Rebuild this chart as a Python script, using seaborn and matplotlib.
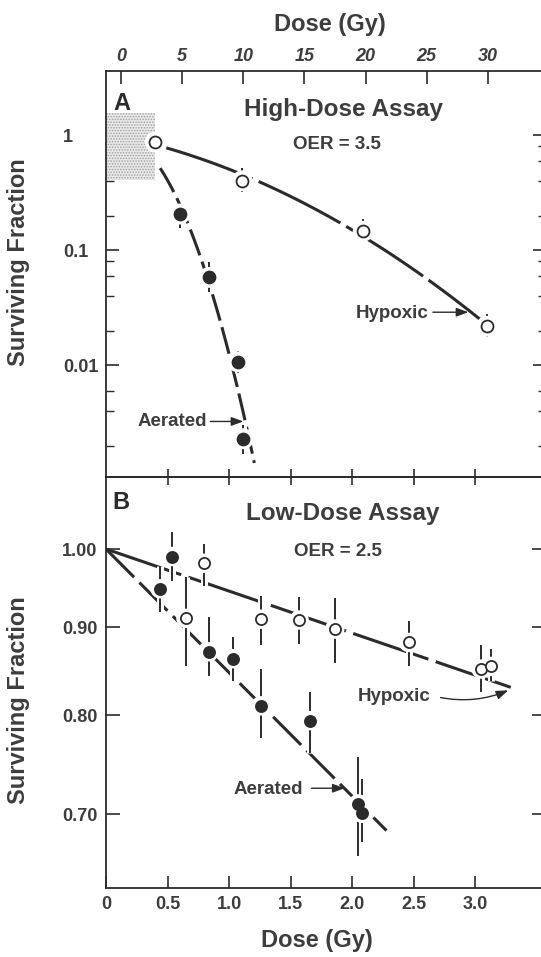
import numpy as np
import pandas as pd
import matplotlib
matplotlib.use("Agg")
import matplotlib.pyplot as plt
import matplotlib.patheffects as pe
from matplotlib.ticker import FixedLocator, NullFormatter
import seaborn as sns

# ---------------- data ----------------
# Panel A: high-dose assay (log survival)
hd_hyp_dose = [2.8, 9.9, 19.8, 29.9]
hd_hyp_sf = [0.87, 0.40, 0.146, 0.0218]
hd_hyp_lo = [0.87, 0.32, 0.122, 0.0175]
hd_hyp_hi = [0.87, 0.52, 0.186, 0.0277]

hd_aer_dose = [4.8, 7.2, 9.55, 10.0]
hd_aer_sf = [0.206, 0.058, 0.0107, 0.0023]
hd_aer_lo = [0.155, 0.0433, 0.0085, 0.0017]
hd_aer_hi = [0.237, 0.0785, 0.0132, 0.0030]

# Panel B: low-dose assay
ld_hyp_dose = [0.65, 0.80, 1.26, 1.57, 1.86, 2.46, 3.05, 3.13]
ld_hyp_sf = [0.911, 0.981, 0.910, 0.909, 0.898, 0.882, 0.851, 0.854]
ld_hyp_lo = [0.855, 0.951, 0.879, 0.880, 0.858, 0.855, 0.825, 0.837]
ld_hyp_hi = [0.963, 1.007, 0.939, 0.937, 0.936, 0.908, 0.879, 0.874]

ld_aer_dose = [0.44, 0.54, 0.84, 1.03, 1.26, 1.66, 2.05, 2.08]
ld_aer_sf = [0.948, 0.990, 0.871, 0.863, 0.810, 0.794, 0.710, 0.701]
ld_aer_lo = [0.919, 0.958, 0.843, 0.837, 0.776, 0.760, 0.662, 0.674]
ld_aer_hi = [0.977, 1.023, 0.913, 0.888, 0.851, 0.825, 0.756, 0.734]

# exponential slopes (per Gy) of the low-dose survival lines
ld_hyp_slope = 0.0565
ld_aer_slope = 0.166

# fitted-curve dose ranges
hd_hyp_range = (3.7, 29.6)
hd_aer_range = (3.2, 10.9)
ld_hyp_range = (0.0, 3.34)
ld_aer_range = (0.0, 2.28)

# low-dose region marked on the high-dose plot
box_dose = [-1.3, 2.75]
box_sf = [0.406, 1.55]

top_ticks = [0, 5, 10, 15, 20, 25, 30]
bottom_ticks = [0, 0.5, 1.0, 1.5, 2.0, 2.5, 3.0]
bottom_ticklabels = ["0", "0.5", "1.0", "1.5", "2.0", "2.5", "3.0"]
a_major = [1, 0.1, 0.01]
a_major_labels = ["1", "0.1", "0.01"]
a_minor = [0.8, 0.6, 0.4, 0.2, 0.08, 0.06, 0.04, 0.02, 0.006, 0.004, 0.002]
b_major = [1.0, 0.9, 0.8, 0.7]
b_major_labels = ["1.00", "0.90", "0.80", "0.70"]

# ---------------- style ----------------
sns.set_theme(style="ticks")
INK = "#2b2b2b"
TXT = "#3d3d3d"
plt.rcParams["font.family"] = ["Liberation Sans", "DejaVu Sans"]
plt.rcParams["hatch.linewidth"] = 0.7
plt.rcParams["axes.edgecolor"] = INK
plt.rcParams["xtick.color"] = INK
plt.rcParams["ytick.color"] = INK

W, H = 541, 957
fig = plt.figure(figsize=(W / 100, H / 100), dpi=100, facecolor="white")

L, R = 106, 546
ax_a = fig.add_axes([L / W, 1 - 477 / H, (R - L) / W, (477 - 71) / H])
ax_b = fig.add_axes([L / W, 1 - 888 / H, (R - L) / W, (888 - 477) / H])
for ax in (ax_a, ax_b):
    ax.set_facecolor("none")
    for s in ax.spines.values():
        s.set_linewidth(1.3)
        s.set_color(INK)


def fit_quadratic(d, sf):
    """ln S = c0 + c1 D + c2 D^2, least squares."""
    c = np.polyfit(np.asarray(d), np.log(np.asarray(sf)), 2)
    return lambda x: np.exp(np.polyval(c, x))


def fit_lq(d, sf):
    """Linear-quadratic model through the origin: ln S = -aD - bD^2."""
    d = np.asarray(d, dtype=float)
    A = np.column_stack([d, d * d])
    (a, b), *_ = np.linalg.lstsq(A, -np.log(np.asarray(sf)), rcond=None)
    return lambda x: np.exp(-a * x - b * x * x)


def exponential(k):
    return lambda x: np.exp(-k * x)


def draw_series(ax, dose, sf, lo, hi, filled, ms):
    dose = np.asarray(dose)
    sf = np.asarray(sf)
    err = [sf - np.asarray(lo), np.asarray(hi) - sf]
    eb = ax.errorbar(dose, sf, yerr=err, fmt="none", ecolor=INK,
                     elinewidth=1.2, capsize=0, zorder=3)
    for c in eb.lines[2]:
        c.set_path_effects([pe.withStroke(linewidth=5, foreground="white"), pe.Normal()])
    df = pd.DataFrame({"dose": dose, "sf": sf})
    sns.scatterplot(data=df, x="dose", y="sf", ax=ax, s=(ms * 1.75) ** 2,
                    color="white", edgecolor="none", zorder=3.5, legend=False)
    sns.scatterplot(data=df, x="dose", y="sf", ax=ax, s=ms ** 2,
                    color=INK if filled else "white", edgecolor=INK,
                    linewidth=1.3, zorder=4, legend=False)


def draw_curve(ax, f, rng, dashes):
    x = np.linspace(rng[0], rng[1], 200)
    sns.lineplot(x=x, y=f(x), ax=ax, color=INK, linewidth=2.2,
                 linestyle=(0, dashes), sort=False, estimator=None, zorder=2)


# ---------------- panel A ----------------
ax_a.set_yscale("log")
ax_a.fill_between(box_dose, box_sf[0], box_sf[1], facecolor="#e8e8e8",
                  edgecolor="#a0a0a0", hatch="......", linewidth=0, zorder=1)
draw_curve(ax_a, fit_quadratic(hd_hyp_dose, hd_hyp_sf), hd_hyp_range, (30, 2.2))
draw_curve(ax_a, fit_lq(hd_aer_dose, hd_aer_sf), hd_aer_range, (9, 2.2))
draw_series(ax_a, hd_hyp_dose, hd_hyp_sf, hd_hyp_lo, hd_hyp_hi, False, 8.6)
draw_series(ax_a, hd_aer_dose, hd_aer_sf, hd_aer_lo, hd_aer_hi, True, 8.6)

ax_a.set_xlim(-1.23, 34.75)
ax_a.set_ylim(0.00107, 3.6)
ax_a.xaxis.tick_top()
ax_a.xaxis.set_label_position("top")
ax_a.set_xticks(top_ticks)
ax_a.set_xticklabels([str(t) for t in top_ticks], fontsize=13,
                     fontweight="bold", fontstyle="italic", color=TXT)
ax_a.tick_params(axis="x", which="major", direction="in", length=9.5,
                 width=1.2, pad=4, top=True, bottom=False)
ax_a.yaxis.set_major_locator(FixedLocator(a_major))
ax_a.yaxis.set_minor_locator(FixedLocator(a_minor))
ax_a.yaxis.set_minor_formatter(NullFormatter())
ax_a.set_yticklabels(a_major_labels, fontsize=13, fontweight="bold",
                     color=TXT, ha="left")
ax_a.tick_params(axis="y", which="major", direction="in", length=9.5,
                 width=1.2, pad=31, left=True, right=True)
ax_a.tick_params(axis="y", which="minor", direction="in", length=5.5,
                 width=1.0, left=True, right=True)
ax_a.set_xlabel("Dose (Gy)", fontsize=17, fontweight="bold", color=TXT)
ax_a.xaxis.set_label_coords(0.508, 1.098)
ax_a.set_ylabel("Surviving Fraction", fontsize=17, fontweight="bold", color=TXT)
ax_a.yaxis.set_label_coords(-0.172, 0.53)

ax_a.text(0.036, 0.92, "A", transform=ax_a.transAxes, fontsize=17,
          fontweight="bold", color=INK, ha="center", va="center")
ax_a.text(0.54, 0.904, "High-Dose Assay", transform=ax_a.transAxes,
          fontsize=17.5, fontweight="bold", color=TXT, ha="center", va="center")
ax_a.text(0.524, 0.82, "OER = 3.5", transform=ax_a.transAxes,
          fontsize=13.5, fontweight="bold", color=TXT, ha="center", va="center")

arrow = dict(arrowstyle="-|>,head_length=0.6,head_width=0.22", color=INK,
             lw=1.0, shrinkA=0, shrinkB=0)
ax_a.text(22.2, 0.0283, "Hypoxic", fontsize=13.5, fontweight="bold",
          color=TXT, ha="center", va="center")
ax_a.annotate("", xy=(28.4, 0.0289), xytext=(25.5, 0.0289), arrowprops=arrow)
ax_a.text(4.2, 0.00325, "Aerated", fontsize=13.5, fontweight="bold",
          color=TXT, ha="center", va="center")
ax_a.annotate("", xy=(10.0, 0.00325), xytext=(7.3, 0.00325), arrowprops=arrow)

# ---------------- panel B ----------------
ax_b.set_yscale("log")
draw_curve(ax_b, exponential(ld_hyp_slope), ld_hyp_range, (26, 2.5))
draw_curve(ax_b, exponential(ld_aer_slope), ld_aer_range, (13, 2.5))
draw_series(ax_b, ld_hyp_dose, ld_hyp_sf, ld_hyp_lo, ld_hyp_hi, False, 8.0)
draw_series(ax_b, ld_aer_dose, ld_aer_sf, ld_aer_lo, ld_aer_hi, True, 8.0)

ax_b.set_xlim(0, 440 / 123)
ax_b.set_ylim(0.634, 1.1017)
ax_b.set_xticks(bottom_ticks)
ax_b.set_xticklabels(bottom_ticklabels, fontsize=13, fontweight="bold", color=TXT)
ax_b.tick_params(axis="x", which="major", direction="in", length=9,
                 width=1.2, pad=6, bottom=True, top=False)
ax_b.yaxis.set_major_locator(FixedLocator(b_major))
ax_b.yaxis.set_minor_locator(FixedLocator([]))
ax_b.set_yticklabels(b_major_labels, fontsize=13, fontweight="bold", color=TXT)
ax_b.tick_params(axis="y", which="major", direction="in", length=10,
                 width=1.2, pad=6, left=True, right=True)
ax_b.set_xlabel("Dose (Gy)", fontsize=17, fontweight="bold", color=TXT)
ax_b.xaxis.set_label_coords(0.48, -0.1)
ax_b.set_ylabel("Surviving Fraction", fontsize=17, fontweight="bold", color=TXT)
ax_b.yaxis.set_label_coords(-0.172, 0.457)

# ticks across the border between the two panels
sec = ax_b.secondary_xaxis("top")
sec.set_xticks(bottom_ticks[1:])
sec.set_xticklabels([])
sec.tick_params(direction="inout", length=12, width=1.2, color=INK)
sec.spines["top"].set_visible(False)

ax_b.text(0.034, 0.939, "B", transform=ax_b.transAxes, fontsize=17,
          fontweight="bold", color=INK, ha="center", va="center")
ax_b.text(0.537, 0.912, "Low-Dose Assay", transform=ax_b.transAxes,
          fontsize=17.5, fontweight="bold", color=TXT, ha="center", va="center")
ax_b.text(0.526, 0.818, "OER = 2.5", transform=ax_b.transAxes,
          fontsize=13.5, fontweight="bold", color=TXT, ha="center", va="center")

ax_b.text(2.34, 0.820, "Hypoxic", fontsize=13.5, fontweight="bold",
          color=TXT, ha="center", va="center")
ax_b.annotate("", xy=(3.27, 0.827), xytext=(2.72, 0.819),
              arrowprops=dict(arrow, connectionstyle="arc3,rad=0.15"))
ax_b.text(1.32, 0.724, "Aerated", fontsize=13.5, fontweight="bold",
          color=TXT, ha="center", va="center")
ax_b.annotate("", xy=(1.94, 0.725), xytext=(1.67, 0.725), arrowprops=arrow)

fig.savefig("out.png", dpi=100, facecolor="white")
